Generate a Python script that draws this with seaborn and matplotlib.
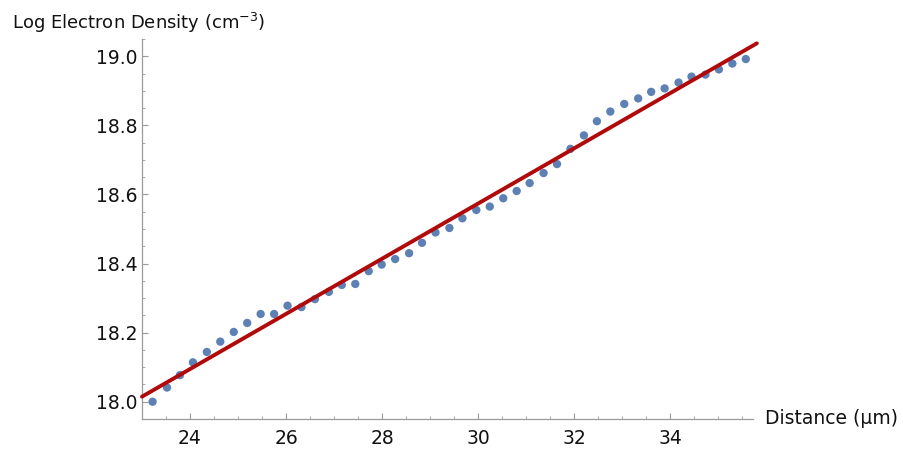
import numpy as np
import pandas as pd
import matplotlib
matplotlib.use("Agg")
import matplotlib.pyplot as plt
from matplotlib.ticker import MultipleLocator
import seaborn as sns

# measured points (distance in um, log10 of electron density)
distance = [23.22, 23.52, 23.79, 24.06, 24.35, 24.63, 24.91, 25.19, 25.47, 25.75,
            26.03, 26.32, 26.60, 26.89, 27.16, 27.44, 27.72, 27.99, 28.27, 28.56,
            28.83, 29.11, 29.40, 29.67, 29.96, 30.24, 30.52, 30.80, 31.07, 31.36,
            31.64, 31.92, 32.20, 32.47, 32.75, 33.04, 33.33, 33.60, 33.88, 34.17,
            34.44, 34.73, 35.01, 35.29, 35.57]
log_density = [18.000, 18.041, 18.077, 18.114, 18.144, 18.174, 18.202, 18.228, 18.254, 18.254,
               18.278, 18.274, 18.297, 18.318, 18.338, 18.341, 18.378, 18.397, 18.413, 18.430,
               18.460, 18.490, 18.503, 18.531, 18.555, 18.565, 18.589, 18.610, 18.633, 18.662,
               18.688, 18.732, 18.771, 18.812, 18.840, 18.862, 18.878, 18.897, 18.907, 18.924,
               18.941, 18.947, 18.962, 18.979, 18.992]

# linear fit
fit_intercept = 16.177
fit_slope = 0.0799
fit_range = [23.0, 35.8]

df = pd.DataFrame({"distance": distance, "log_density": log_density})
fit_df = pd.DataFrame({"distance": fit_range})
fit_df["log_density"] = fit_intercept + fit_slope * fit_df["distance"]

sns.set_theme(style="white")
plt.rcParams["font.family"] = ["DejaVu Sans"]
plt.rcParams["mathtext.default"] = "regular"

fig = plt.figure(figsize=(9.04, 4.5), dpi=100)
ax = fig.add_axes([142 / 904, 31 / 450, 611 / 904, 380 / 450])

sns.scatterplot(data=df, x="distance", y="log_density", ax=ax, color="#5E81B5",
                s=36, edgecolor="none", zorder=2)
sns.lineplot(data=fit_df, x="distance", y="log_density", ax=ax, color="#B00A0A",
             linewidth=2.8, zorder=3, clip_on=False)

ax.set_xlim(23.0, 35.72)
ax.set_ylim(17.95, 19.05)
ax.xaxis.set_major_locator(MultipleLocator(2))
ax.xaxis.set_minor_locator(MultipleLocator(0.5))
ax.yaxis.set_major_locator(MultipleLocator(0.2))
ax.yaxis.set_minor_locator(MultipleLocator(0.05))
ax.xaxis.set_major_formatter(matplotlib.ticker.FormatStrFormatter("%d"))
ax.yaxis.set_major_formatter(matplotlib.ticker.FormatStrFormatter("%.1f"))

for side in ["top", "right"]:
    ax.spines[side].set_visible(False)
for side in ["left", "bottom"]:
    ax.spines[side].set_color("#9a9a9a")
    ax.spines[side].set_linewidth(0.9)

ax.tick_params(which="both", direction="in", color="#9a9a9a", labelsize=13.5,
               labelcolor="#111111", bottom=True, left=True)
ax.tick_params(which="major", length=4, width=0.8)
ax.tick_params(axis="y", which="major", pad=3)
ax.tick_params(axis="x", which="major", pad=7)
ax.tick_params(which="minor", length=2.5, width=0.6)
ax.set_xlabel("")
ax.set_ylabel("")

fig.text(12 / 904, 1 - 23 / 450, r"Log Electron Density (cm$^{-3}$)", fontsize=13,
         ha="left", va="center", color="#111111")
fig.text(765 / 904, 1 - 419 / 450, "Distance (\u03bcm)", fontsize=13.5,
         ha="left", va="center", color="#111111")

fig.savefig("out.png", dpi=100)
